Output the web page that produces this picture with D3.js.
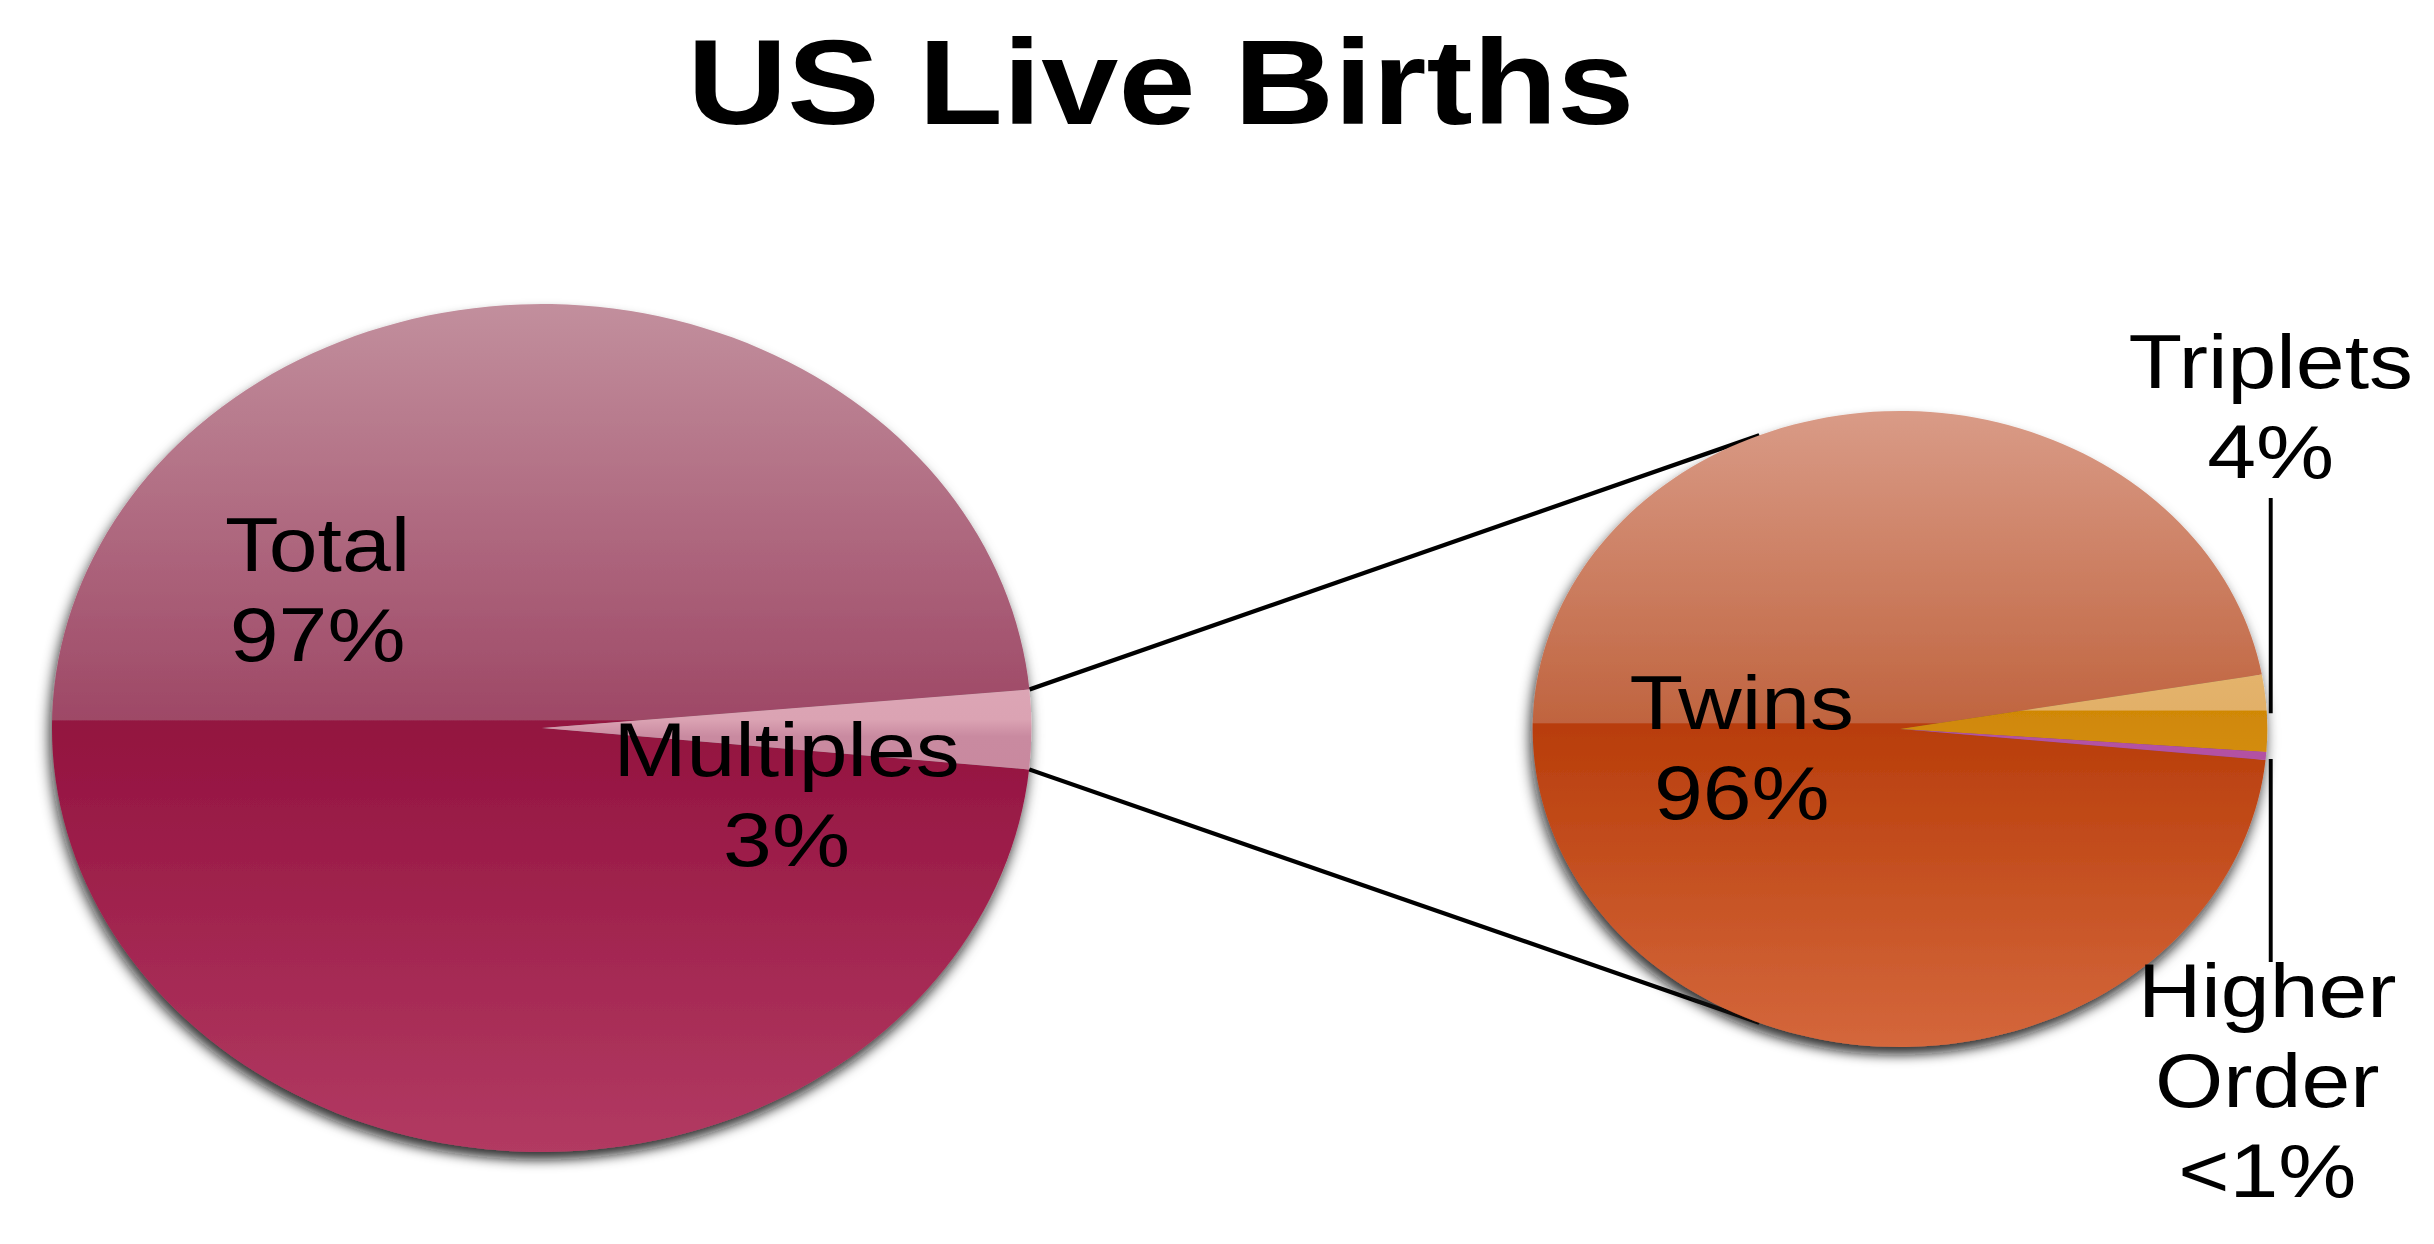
<!DOCTYPE html>
<html>
<head>
<meta charset="utf-8">
<script src="https://cdn.jsdelivr.net/npm/d3@7"></script>
<style>
  body { margin: 0; background: #fff; }
  svg { display: block; font-family: "Liberation Sans", Arial, Helvetica, sans-serif; }
</style>
</head>
<body>
<svg id="chart"></svg>
<script>
// ---- data ----
const chartTitle = "US Live Births";

const mainLabels = ["Total", "Multiples"];
const mainValues = [97, 3];
const mainPct = ["97%", "3%"];

const multLabels = ["Twins", "Triplets", "Higher Order"];
const multValues = [95.7, 3.9, 0.4];
const multPct = ["96%", "4%", "<1%"];

// ---- layout ----
const W = 2434, H = 1244;
const stretch = 1.155; // the original is drawn wider than tall

const big = { cx: 469, cy: 728, r: 424 };
const small = { cx: 1645, cy: 729, r: 318 };
const startDeg = -264.4;
const rad = d => d * Math.PI / 180;

const svg = d3.select("#chart").attr("width", W).attr("height", H);
const defs = svg.append("defs");

// soft shadow under the pies
const f = defs.append("filter").attr("id", "shadow")
    .attr("x", "-10%").attr("y", "-10%").attr("width", "120%").attr("height", "125%");
f.append("feDropShadow").attr("dx", -2).attr("dy", 8).attr("stdDeviation", 6)
    .attr("flood-color", "#0a0a0a").attr("flood-opacity", 0.85);

// glossy two-tone gradients (lighter top half, saturated bottom half)
function gloss(id, pie, stops) {
  const g = defs.append("linearGradient").attr("id", id)
      .attr("gradientUnits", "userSpaceOnUse")
      .attr("x1", 0).attr("x2", 0)
      .attr("y1", pie.cy - pie.r).attr("y2", pie.cy + pie.r);
  stops.forEach(s => g.append("stop").attr("offset", s[0]).attr("stop-color", s[1]));
}
gloss("gTotal", big, [[0, "#c28f9d"], [0.49, "#9e4866"], [0.492, "#93123f"], [1, "#b23a62"]]);
gloss("gMult", big, [[0, "#e6bfca"], [0.49, "#dba3b3"], [0.51, "#c98aa0"], [1, "#c57b92"]]);
gloss("gTwins", small, [[0, "#d99b87"], [0.49, "#c0643f"], [0.492, "#b83d0a"], [1, "#d4673c"]]);
gloss("gTrip", small, [[0, "#f0c88a"], [0.47, "#e2b068"], [0.472, "#d08806"], [1, "#e6a83a"]]);
gloss("gHigh", small, [[0, "#c060b0"], [1, "#a84498"]]);

const root = svg.append("g").attr("transform", `scale(${stretch},1)`);

// title
root.append("text")
    .attr("x", 1005).attr("y", 124)
    .attr("text-anchor", "middle")
    .style("font-size", "120px").style("font-weight", "bold")
    .text(chartTitle);

const pie = d3.pie().sort(null)
    .startAngle(rad(startDeg)).endAngle(rad(startDeg + 360));

const mainArcs = pie(mainValues);
const multArcs = pie(multValues);

const rimPoint = (p, a) => [p.cx + p.r * Math.sin(a), p.cy - p.r * Math.cos(a)];

// connector lines from the Multiples slice to the second pie
const m = mainArcs[1];
const connectors = [
  [rimPoint(big, m.startAngle), rimPoint(small, rad(-22.5))],
  [rimPoint(big, m.endAngle), rimPoint(small, rad(202.5))]
];
root.selectAll(".conn").data(connectors).enter().append("line")
    .attr("class", "conn")
    .attr("x1", d => d[0][0]).attr("y1", d => d[0][1])
    .attr("x2", d => d[1][0]).attr("y2", d => d[1][1])
    .attr("stroke", "#000").attr("stroke-width", 4.2);

// slices drawn in root coordinates so the gradients line up with each pie
function drawPie(p, arcs, fills) {
  const g = root.append("g").attr("filter", "url(#shadow)");
  g.selectAll("path").data(arcs).enter().append("path")
      .attr("d", d => {
        const path = d3.path();
        path.moveTo(p.cx, p.cy);
        path.arc(p.cx, p.cy, p.r, d.startAngle - Math.PI / 2, d.endAngle - Math.PI / 2);
        path.closePath();
        return path.toString();
      })
      .attr("fill", (d, i) => fills[i]);
  return g;
}

drawPie(big, mainArcs, ["url(#gTotal)", "url(#gMult)"]);
drawPie(small, multArcs, ["url(#gTwins)", "url(#gTrip)", "url(#gHigh)"]);

// leader lines for the tiny slices
const leaderX = small.cx + small.r + 3;
const tripMid = (multArcs[1].startAngle + multArcs[1].endAngle) / 2;
const highMid = (multArcs[2].startAngle + multArcs[2].endAngle) / 2;
const leaders = [
  [498, rimPoint(small, tripMid)[1]],
  [rimPoint(small, highMid)[1] + 3, 962]
];
root.selectAll(".lead").data(leaders).enter().append("line")
    .attr("class", "lead")
    .attr("x1", leaderX).attr("x2", leaderX)
    .attr("y1", d => d[0]).attr("y2", d => d[1])
    .attr("stroke", "#000").attr("stroke-width", 3.4);

// labels
const lineH = 90;
const labelSpecs = [
  { x: 275, y: 571, lines: [mainLabels[0], mainPct[0]] },
  { x: 681, y: 776, lines: [mainLabels[1], mainPct[1]] },
  { x: 1508, y: 729, lines: [multLabels[0], multPct[0]] },
  { x: 1966, y: 388, lines: [multLabels[1], multPct[1]] },
  { x: 1963, y: 1017, lines: multLabels[2].split(" ").concat([multPct[2]]) }
];
labelSpecs.forEach(s => {
  const t = root.append("text")
      .attr("text-anchor", "middle")
      .style("font-size", "76px")
      .attr("fill", "#000");
  s.lines.forEach((ln, i) => {
    t.append("tspan").attr("x", s.x).attr("y", s.y + i * lineH).text(ln);
  });
});
</script>
</body>
</html>
